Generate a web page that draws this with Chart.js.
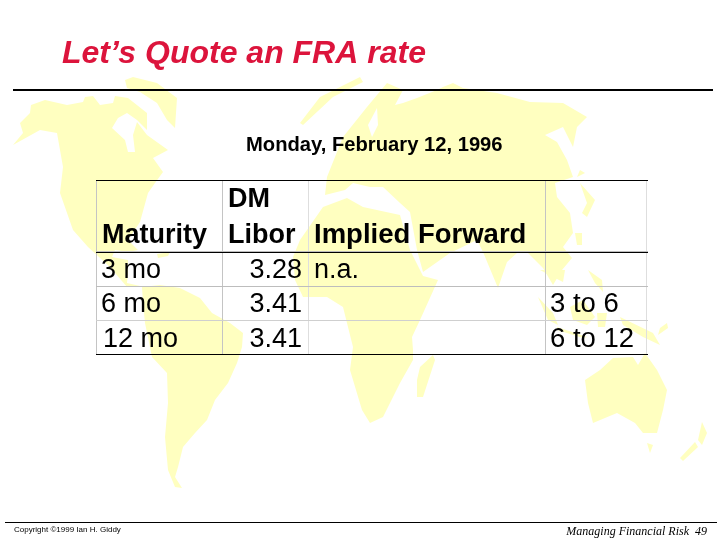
<!DOCTYPE html>
<html>
<head>
<meta charset="utf-8">
<title>Let's Quote an FRA rate</title>
<script src="https://cdn.jsdelivr.net/npm/chart.js@4/dist/chart.umd.min.js"></script>
<style>
html, body { margin: 0; padding: 0; background: #fff; }
canvas { display: block; }
</style>
</head>
<body>
<canvas id="slide" width="720" height="540"></canvas>
<script>
// table content
const maturities = ['3 mo', '6 mo', '12 mo'];
const liborValues = ['3.28', '3.41', '3.41'];
const impliedNotes = ['n.a.', '', ''];
const forwardPeriods = ['', '3 to 6', '6 to 12'];

// table layout, in slide pixels
const columnEdges = [96, 222, 308, 545, 646];
const rowEdges = [180, 251, 252, 286, 320, 354];
const rowBaselines = [278, 312, 347];
const rowLeft = [101, 101, 103];

// background world map outlines
const northAmerica = [[13,145],[23,133],[20,123],[30,113],[31,105],[45,100],[67,105],[83,102],[85,97],[93,96],[100,105],[113,103],[115,96],[128,98],[147,113],[147,130],[137,120],[127,113],[118,118],[112,128],[125,140],[128,152],[135,152],[133,135],[137,122],[147,135],[168,150],[153,158],[163,172],[155,183],[148,193],[140,222],[128,240],[138,250],[128,252],[115,250],[112,257],[128,260],[128,272],[127,283],[140,286],[127,287],[110,267],[88,247],[73,230],[60,193],[63,167],[57,133],[40,130]];
const greenland = [[125,80],[133,77],[157,83],[177,98],[175,128],[167,120],[157,103],[140,92],[127,88]];
const cuba = [[157,254],[170,252],[168,256],[158,258]];
const southAmerica = [[142,287],[160,285],[180,288],[200,298],[212,313],[230,323],[243,333],[242,347],[237,363],[228,383],[215,400],[207,420],[195,433],[183,447],[178,467],[175,477],[182,488],[175,487],[168,470],[165,437],[168,403],[167,373],[152,357],[145,323],[143,303]];
const svalbard = [[300,123],[320,97],[360,77],[363,82],[333,97],[303,125]];
const eurasia = [[327,177],[325,195],[345,190],[353,183],[370,187],[383,187],[400,203],[410,212],[417,250],[423,272],[450,253],[477,240],[483,252],[498,288],[507,262],[517,253],[527,252],[543,268],[553,285],[562,270],[572,258],[563,247],[573,233],[570,213],[557,197],[555,183],[573,177],[567,160],[557,142],[545,135],[563,127],[573,147],[577,127],[587,117],[563,103],[530,102],[497,93],[463,88],[453,83],[443,87],[437,90],[417,98],[403,103],[395,105],[403,90],[387,83],[367,107],[343,137]];
const africa = [[293,257],[295,280],[303,297],[327,297],[343,307],[353,347],[350,370],[362,410],[370,423],[383,417],[400,383],[413,360],[413,350],[412,337],[420,320],[438,280],[423,276],[410,250],[400,215],[363,207],[347,198],[323,207],[300,240]];
const madagascar = [[433,355],[435,360],[423,397],[417,397],[417,380],[420,367]];
const australia = [[585,380],[600,370],[613,358],[633,357],[638,365],[645,353],[657,370],[667,390],[663,410],[657,433],[643,433],[635,423],[617,413],[593,423],[588,403]];
const tasmania = [[647,443],[653,445],[650,453]];
const newZealandNorth = [[702,422],[707,433],[702,445],[698,440]];
const newZealandSouth = [[695,442],[698,447],[683,461],[680,458]];
const newGuinea = [[620,317],[653,333],[660,345],[643,337],[623,325]];
const solomons = [[667,323],[668,328],[658,335],[660,328]];
const borneo = [[570,307],[583,300],[595,317],[587,325],[573,320]];
const sumatra = [[538,297],[553,313],[558,325],[548,320]];
const java = [[557,327],[587,337],[583,338],[557,330]];
const sulawesi = [[597,313],[607,313],[605,327],[598,327]];
const philippines = [[588,270],[602,280],[603,292],[595,283]];
const malaya = [[540,270],[565,270],[563,282],[555,278]];
const hokkaido = [[580,170],[585,173],[577,177]];
const honshu = [[580,183],[595,200],[587,217],[582,213],[587,203]];
const taiwan = [[575,233],[582,233],[582,245],[577,245]];
const landShapes = [northAmerica, greenland, cuba, southAmerica, svalbard, eurasia, africa, madagascar, australia, tasmania, newZealandNorth, newZealandSouth, newGuinea, solomons, borneo, sumatra, java, sulawesi, philippines, malaya, hokkaido, honshu, taiwan];
const baltic = [[377,108],[368,125],[372,137],[378,125]];

const LAND = '#ffffc0';
const SANS = '"Liberation Sans", Arial, sans-serif';

function gridXColor(ctx) {
    return (ctx.tick.value === 308 || ctx.tick.value === 646) ? '#dedede' : '#c4c4c4';
}
function gridYColor(ctx) {
    const v = ctx.tick.value;
    if (v === 180 || v === 252 || v === 354) return '#000';
    return v === 320 ? '#cfcfcf' : '#bdbdbd';
}

const mapPlugin = {
    id: 'worldMap',
    beforeDraw(chart) {
        const { ctx, scales: { x, y } } = chart;
        ctx.save();
        ctx.fillStyle = '#fff';
        ctx.fillRect(0, 0, chart.width, chart.height);
        ctx.filter = 'blur(0.6px)';
        const trace = (shape, color) => {
            ctx.fillStyle = color;
            ctx.beginPath();
            shape.forEach((p, i) => {
                const px = x.getPixelForValue(p[0]);
                const py = y.getPixelForValue(p[1]);
                if (i === 0) ctx.moveTo(px, py); else ctx.lineTo(px, py);
            });
            ctx.closePath();
            ctx.fill();
        };
        landShapes.forEach(s => trace(s, LAND));
        trace(baltic, '#fff');
        ctx.restore();
    }
};

const textPlugin = {
    id: 'slideText',
    afterDraw(chart) {
        const { ctx, scales: { x, y } } = chart;
        const put = (str, px, py, font, color = '#000', align = 'left') => {
            ctx.font = font;
            ctx.fillStyle = color;
            ctx.textAlign = align;
            ctx.textBaseline = 'alphabetic';
            ctx.fillText(str, x.getPixelForValue(px), y.getPixelForValue(py));
        };
        const rule = (x1, x2, py, w) => {
            ctx.strokeStyle = '#000';
            ctx.lineWidth = w;
            ctx.beginPath();
            ctx.moveTo(x.getPixelForValue(x1), y.getPixelForValue(py));
            ctx.lineTo(x.getPixelForValue(x2), y.getPixelForValue(py));
            ctx.stroke();
        };
        ctx.save();
        rule(13, 713, 90, 2);
        rule(5, 717, 522.5, 1);

        put('Let\u2019s Quote an FRA rate', 62, 63, `italic bold 32px ${SANS}`, '#dc143c');
        put('Monday, February 12, 1996', 246, 151, `bold 20.2px ${SANS}`);

        const head = `bold 27px ${SANS}`;
        const body = `27px ${SANS}`;
        put('DM', 228, 207, head);
        put('Maturity', 102, 243, head);
        put('Libor', 228, 243, head);
        put('Implied Forward', 314, 243, `bold 27.5px ${SANS}`);
        maturities.forEach((m, i) => {
            put(m, rowLeft[i], rowBaselines[i], body);
            put(liborValues[i], 302, rowBaselines[i], body, '#000', 'right');
            if (impliedNotes[i]) put(impliedNotes[i], 314, rowBaselines[i], body);
            if (forwardPeriods[i]) put(forwardPeriods[i], 550, rowBaselines[i], `27.5px ${SANS}`);
        });

        put('Copyright \u00a91999 Ian H. Giddy', 14, 532, `8px ${SANS}`);
        put('Managing Financial Risk  49', 707, 535, `italic 12px "Liberation Serif", serif`, '#000', 'right');
        ctx.restore();
    }
};

new Chart(document.getElementById('slide'), {
    type: 'scatter',
    data: { datasets: [{ data: [], pointRadius: 0 }] },
    options: {
        responsive: false,
        animation: false,
        devicePixelRatio: 1,
        layout: { padding: { left: 96, right: 72, top: 180, bottom: 186 } },
        plugins: { legend: { display: false }, tooltip: { enabled: false } },
        scales: {
            x: {
                type: 'linear', min: 96, max: 648,
                afterBuildTicks: axis => { axis.ticks = columnEdges.map(value => ({ value })); },
                ticks: { display: false },
                border: { display: false },
                grid: { color: gridXColor, lineWidth: 1, drawTicks: false }
            },
            y: {
                type: 'linear', min: 180, max: 354, reverse: true,
                afterBuildTicks: axis => { axis.ticks = rowEdges.map(value => ({ value })); },
                ticks: { display: false },
                border: { display: false },
                grid: { color: gridYColor, lineWidth: 1, drawTicks: false }
            }
        }
    },
    plugins: [mapPlugin, textPlugin]
});
</script>
</body>
</html>
